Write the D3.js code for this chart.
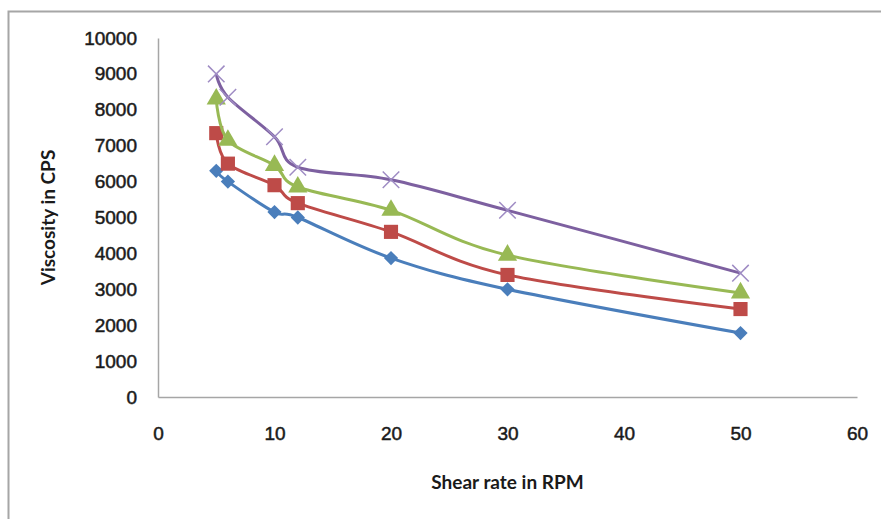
<!DOCTYPE html>
<html>
<head>
<meta charset="utf-8">
<script src="https://cdn.jsdelivr.net/npm/d3@7"></script>
<style>
  body { margin: 0; background: #fff; }
</style>
</head>
<body>
<div id="chart"></div>
<script>
// Shear rate (RPM) on x, viscosity (CPS) on y, four samples
const shearRate = [5, 6, 10, 12, 20, 30, 50];
const seriesBlue   = [6300, 6000, 5150, 5000, 3870, 3000, 1780];
const seriesRed    = [7350, 6500, 5900, 5400, 4600, 3400, 2450];
const seriesGreen  = [8300, 7150, 6450, 5850, 5200, 3950, 2900];
const seriesPurple = [9000, 8350, 7250, 6400, 6050, 5200, 3450];
const xTicks = [0, 10, 20, 30, 40, 50, 60];
const yTicks = [0, 1000, 2000, 3000, 4000, 5000, 6000, 7000, 8000, 9000, 10000];

const width = 881, height = 519;
const margin = {top: 38, right: 24, bottom: 122, left: 158};
const fontSize = 19;

const series = [
  {values: seriesBlue,   color: "#4a7ebb", marker: "diamond"},
  {values: seriesRed,    color: "#be4b48", marker: "square"},
  {values: seriesGreen,  color: "#98b954", marker: "triangle"},
  {values: seriesPurple, color: "#7d60a0", marker: "cross"}
];

const svg = d3.select("#chart").append("svg")
    .attr("width", width)
    .attr("height", height)
    .attr("font-family", "Lato, 'Open Sans', sans-serif");

// outer chart frame (only top/left visible in the picture)
svg.append("rect")
    .attr("x", 8.5).attr("y", 11.5)
    .attr("width", width).attr("height", height)
    .attr("fill", "none")
    .attr("stroke", "#a6a6a6")
    .attr("stroke-width", 2);

const x = d3.scaleLinear().domain([0, 60]).range([margin.left, width - margin.right]);
const y = d3.scaleLinear().domain([0, 10000]).range([height - margin.bottom, margin.top]);

// tick labels are heavy in the picture: regular face with a thin outline
const styleTicks = g => g.selectAll("text")
    .attr("font-size", fontSize)
    .attr("fill", "#1a1a1a")
    .attr("stroke", "#1a1a1a")
    .attr("stroke-width", 0.5);

svg.append("g")
    .attr("transform", `translate(0,${y(0)})`)
    .call(d3.axisBottom(x).tickValues(xTicks).tickFormat(d3.format("d")).tickSize(0).tickPadding(30))
    .call(g => g.select(".domain").attr("stroke", "#a6a6a6").attr("stroke-width", 1.5))
    .call(styleTicks);

svg.append("g")
    .attr("transform", `translate(${x(0)},0)`)
    .call(d3.axisLeft(y).tickValues(yTicks).tickFormat(d3.format("d")).tickSize(0).tickPadding(21))
    .call(g => g.select(".domain").attr("stroke", "#a6a6a6").attr("stroke-width", 1.5))
    .call(styleTicks);

// axis titles
svg.append("text")
    .attr("x", x(30))
    .attr("y", 489)
    .attr("text-anchor", "middle")
    .attr("font-size", fontSize)
    .attr("font-weight", "bold")
    .attr("fill", "#1a1a1a")
    .text("Shear rate in RPM");

svg.append("text")
    .attr("transform", `translate(55,${y(5000)}) rotate(-90)`)
    .attr("text-anchor", "middle")
    .attr("font-size", fontSize)
    .attr("font-weight", "bold")
    .attr("fill", "#1a1a1a")
    .text("Viscosity in CPS");

// smoothed lines
const line = d3.line()
    .x(d => x(d[0]))
    .y(d => y(d[1]))
    .curve(d3.curveCardinal.tension(0));

const symbols = {
  diamond: d3.symbol().type(d3.symbolDiamond2).size(130),
  square: d3.symbol().type(d3.symbolSquare).size(200),
  triangle: d3.symbol().type(d3.symbolTriangle).size(160),
  cross: d3.symbol().type(d3.symbolTimes).size(180)
};

series.forEach(s => {
  const pts = shearRate.map((r, i) => [r, s.values[i]]);
  svg.append("path")
      .datum(pts)
      .attr("fill", "none")
      .attr("stroke", s.color)
      .attr("stroke-width", 3)
      .attr("d", line);

  svg.append("g")
    .selectAll("path")
    .data(pts)
    .join("path")
      .attr("transform", d => `translate(${x(d[0])},${y(d[1])})`)
      .attr("d", symbols[s.marker])
      .attr("fill", s.marker === "cross" ? "none" : s.color)
      .attr("stroke", s.marker === "cross" ? "#9f8cc4" : "none")
      .attr("stroke-width", 1.5);
});
</script>
</body>
</html>
